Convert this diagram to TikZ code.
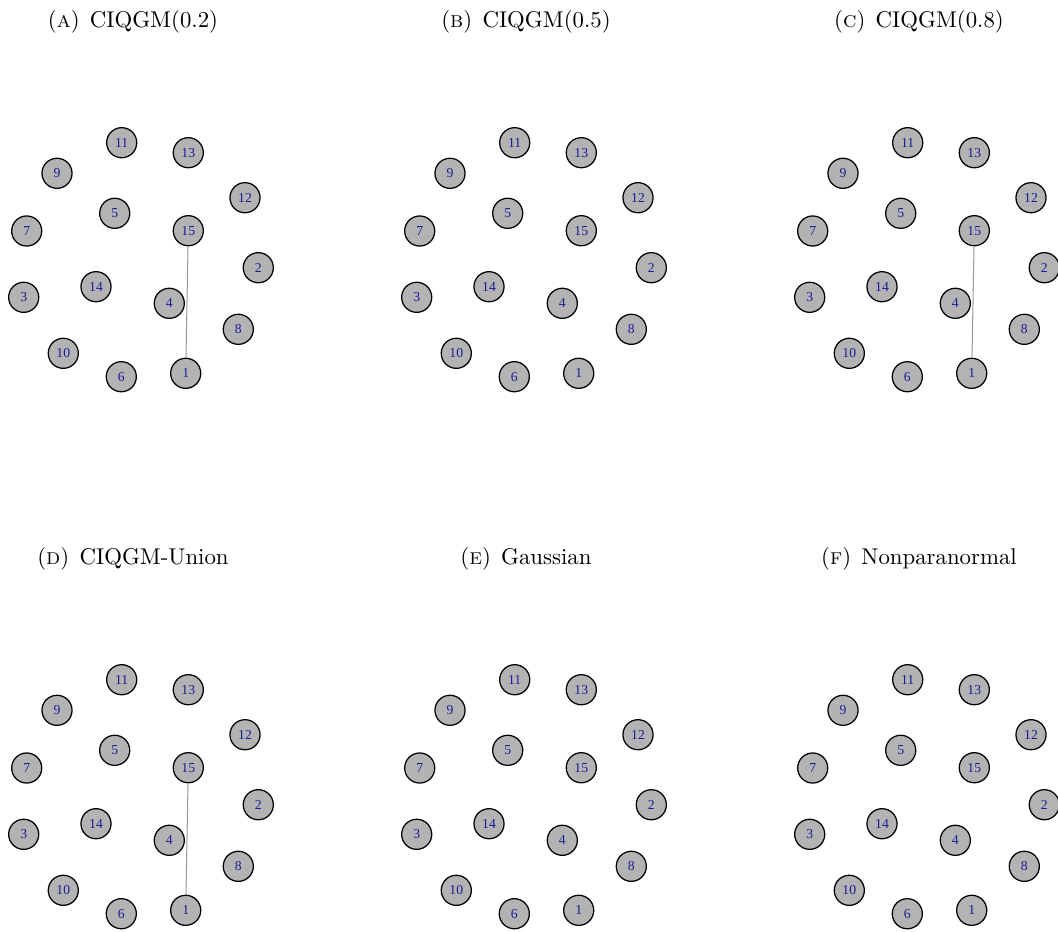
\documentclass[tikz,border=0pt]{standalone}
\usepackage{fontspec}
\newfontfamily\labelfont{Liberation Serif}
\usepackage{tikz}
\usetikzlibrary{positioning}

\definecolor{vtxfill}{HTML}{B3B3B3}
\definecolor{vtxtext}{HTML}{1C1C96}
\definecolor{edgegray}{HTML}{9A9A9A}

\begin{document}
\begin{tikzpicture}[
  x=0.4386pt, y=-0.4386pt,
  vtx/.style={circle, draw=black, line width=0.55pt, fill=vtxfill,
              minimum size=13.2pt, inner sep=0pt, text=vtxtext,
              font=\labelfont\fontsize{6}{6.5}\selectfont},
  edge/.style={draw=edgegray, line width=0.45pt},
  ttl/.style={font=\normalsize, inner sep=0pt}
]
\useasboundingbox (0,0) rectangle (1058,931);
% six panels, same layout, shifted
\foreach \p/\dx/\dy/\cap in {A/0/0/{(\textsc{a})\hspace{4.5pt}CIQGM(0.2)},
                             B/393/0/{(\textsc{b})\hspace{4.5pt}CIQGM(0.5)},
                             C/786/0/{(\textsc{c})\hspace{4.5pt}CIQGM(0.8)},
                             D/0/537/{(\textsc{d})\hspace{4.5pt}CIQGM-Union},
                             E/393/537/{(\textsc{e})\hspace{4.5pt}Gaussian},
                             F/786/537/{(\textsc{f})\hspace{4.5pt}Nonparanormal}}{
  \begin{scope}[shift={(\dx,\dy)}]
    \node[ttl] (\p-title) at (133,22) {\cap};
    \node[vtx] (\p-1)  at (185.7,373.3) {1};
    \node[vtx] (\p-2)  at (258.3,267.7) {2};
    \node[vtx] (\p-3)  at (23.7,297.3)  {3};
    \node[vtx] (\p-4)  at (169.3,303.3) {4};
    \node[vtx] (\p-5)  at (114.7,213.3) {5};
    \node[vtx] (\p-6)  at (121.3,376.7) {6};
    \node[vtx] (\p-7)  at (26.7,231)    {7};
    \node[vtx] (\p-8)  at (238.3,329.3) {8};
    \node[vtx] (\p-9)  at (57,173.3)    {9};
    \node[vtx] (\p-10) at (63.3,353.3)  {10};
    \node[vtx] (\p-11) at (121.7,142.7) {11};
    \node[vtx] (\p-12) at (245,197.7)   {12};
    \node[vtx] (\p-13) at (188.3,152.7) {13};
    \node[vtx] (\p-14) at (96,286.7)    {14};
    \node[vtx] (\p-15) at (188.3,230.7) {15};
  \end{scope}
}
% the only edge found
\draw[edge] (A-15) -- (A-1);
\draw[edge] (C-15) -- (C-1);
\draw[edge] (D-15) -- (D-1);
\end{tikzpicture}
\end{document}
